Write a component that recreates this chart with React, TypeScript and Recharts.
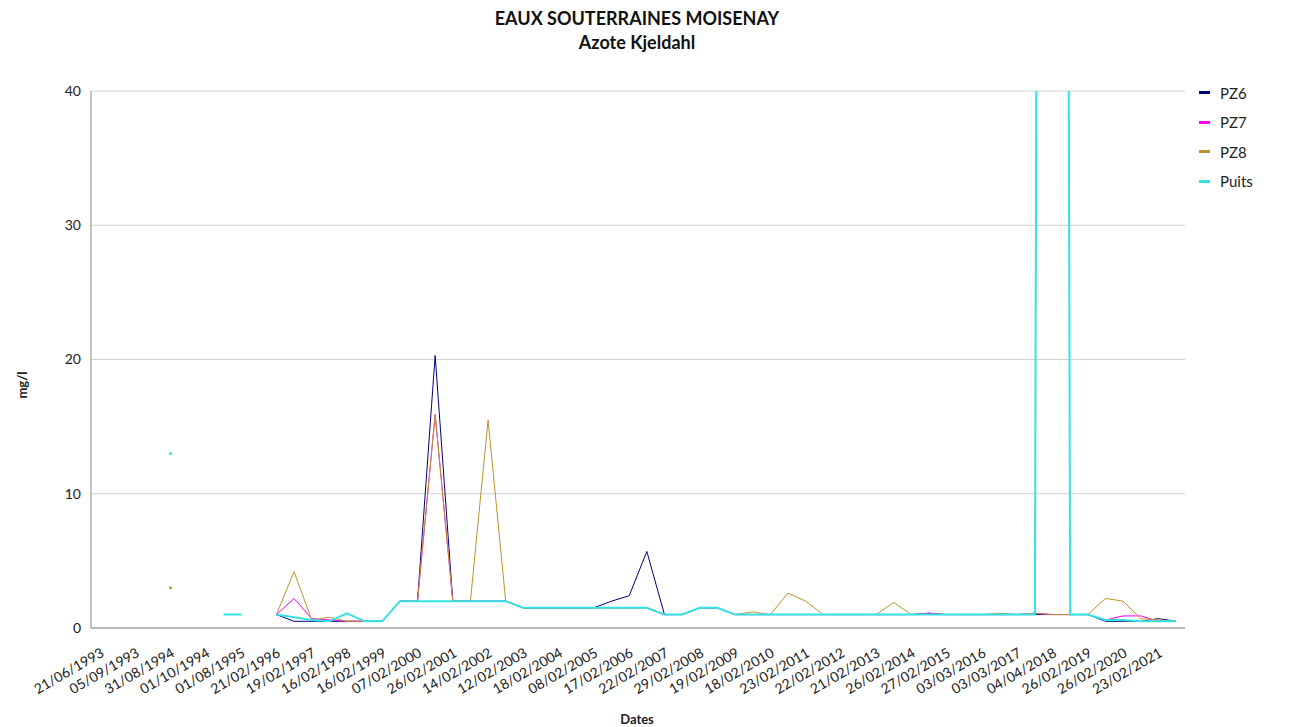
import { LineChart, Line, XAxis, YAxis, CartesianGrid } from 'recharts'

const dates = [
  '21/06/1993', '19/07/1993', '05/09/1993', '14/02/1994', '31/08/1994', '15/09/1994',
  '01/10/1994', '20/02/1995', '01/08/1995', '12/09/1995', '21/02/1996', '10/09/1996',
  '19/02/1997', '16/09/1997', '16/02/1998', '15/09/1998', '16/02/1999', '14/09/1999',
  '07/02/2000', '12/09/2000', '26/02/2001', '11/09/2001', '14/02/2002', '17/09/2002',
  '12/02/2003', '16/09/2003', '18/02/2004', '14/09/2004', '08/02/2005', '13/09/2005',
  '17/02/2006', '12/09/2006', '22/02/2007', '11/09/2007', '29/02/2008', '16/09/2008',
  '19/02/2009', '15/09/2009', '18/02/2010', '14/09/2010', '23/02/2011', '13/09/2011',
  '22/02/2012', '11/09/2012', '21/02/2013', '17/09/2013', '26/02/2014', '16/09/2014',
  '27/02/2015', '15/09/2015', '03/03/2016', '13/09/2016', '03/03/2017', '12/09/2017',
  '04/04/2018', '11/09/2018', '26/02/2019', '17/09/2019', '26/02/2020', '15/09/2020',
  '23/02/2021', '14/09/2021',
]

const pz6 = [
  null, null, null, null, null, null, null, null, null, null,
  1.0, 0.5, 0.5, 0.5, 0.5, 0.5, 0.5, 2.0, 2.0, 20.3,
  2.0, 2.0, 2.0, 2.0, 1.5, 1.5, 1.5, 1.5, 1.5, 2.0,
  2.4, 5.7, 1.0, 1.0, 1.5, 1.5, 1.0, 1.0, 1.0, 1.0,
  1.0, 1.0, 1.0, 1.0, 1.0, 1.0, 1.0, 1.1, 1.0, 1.0,
  1.0, 1.0, 1.0, 1.0, 1.0, 1.0, 1.0, 0.5, 0.5, 0.5,
  0.7, 0.5,
]

const pz7 = [
  null, null, null, null, null, null, null, null, null, null,
  1.0, 2.2, 0.7, 0.6, 0.5, 0.5, 0.5, 2.0, 2.0, 15.9,
  2.0, 2.0, 2.0, 2.0, 1.5, 1.5, 1.5, 1.5, 1.5, 1.5,
  1.5, 1.5, 1.0, 1.0, 1.5, 1.5, 1.0, 1.0, 1.0, 1.0,
  1.0, 1.0, 1.0, 1.0, 1.0, 1.0, 1.0, 1.1, 1.0, 1.0,
  1.0, 1.0, 1.0, 1.1, 1.0, 1.0, 1.0, 0.6, 0.9, 0.9,
  0.5, 0.5,
]

const pz8 = [
  null, null, null, null, 3.0, null, null, null, null, null,
  1.0, 4.2, 0.6, 0.8, 0.5, 0.5, 0.5, 2.0, 2.0, 15.9,
  2.0, 2.0, 15.5, 2.0, 1.5, 1.5, 1.5, 1.5, 1.5, 1.5,
  1.5, 1.5, 1.0, 1.0, 1.5, 1.5, 1.0, 1.2, 1.0, 2.6,
  2.0, 1.0, 1.0, 1.0, 1.0, 1.9, 1.0, 1.0, 1.0, 1.0,
  1.0, 1.1, 1.0, 1.1, 1.0, 1.0, 1.0, 2.2, 2.0, 0.7,
  0.6, 0.5,
]

const puits = [
  null, null, null, null, 13.0, null, null, 1.0, 1.0, null,
  1.0, 0.8, 0.6, 0.5, 1.1, 0.5, 0.5, 2.0, 2.0, 2.0,
  2.0, 2.0, 2.0, 2.0, 1.5, 1.5, 1.5, 1.5, 1.5, 1.5,
  1.5, 1.5, 1.0, 1.0, 1.5, 1.5, 1.0, 1.0, 1.0, 1.0,
  1.0, 1.0, 1.0, 1.0, 1.0, 1.0, 1.0, 1.0, 1.0, 1.0,
  1.0, 1.0, 1.0, 1.0, 500, 1.0, 1.0, 0.6, 0.6, 0.5,
  0.5, 0.5,
]

const yTicks = [0, 10, 20, 30, 40]

const SERIES = [
  { key: 'PZ6', values: pz6, color: '#000080', width: 1 },
  { key: 'PZ7', values: pz7, color: '#ff00ff', width: 1 },
  { key: 'PZ8', values: pz8, color: '#c0922b', width: 1 },
  { key: 'Puits', values: puits, color: '#33e3e3', width: 2 },
]

const chartData = dates.map((date, i) => {
  const row: Record<string, string | number | null> = { date }
  SERIES.forEach((s) => {
    row[s.key] = s.values[i]
  })
  return row
})

const FONT = 'Lato, "Open Sans", sans-serif'

// lone samples have no neighbour to draw a segment to, so mark them with a dot
function loneDot(values: (number | null)[], color: string) {
  return (props: any) => {
    const { cx, cy, index } = props
    const prev = index > 0 ? values[index - 1] : null
    const next = index < values.length - 1 ? values[index + 1] : null
    if (values[index] == null || prev != null || next != null || cy == null) {
      return <g key={`d-${index}`} />
    }
    return <circle key={`d-${index}`} cx={cx} cy={cy} r={1.5} fill={color} />
  }
}

function LegendBox() {
  return (
    <div style={{ position: 'absolute', left: 1199, top: 78, fontSize: 15, color: '#222' }}>
      {SERIES.map((s) => (
        <div key={s.key} style={{ display: 'flex', alignItems: 'center', height: 29.5 }}>
          <span style={{ display: 'inline-block', width: 11, height: 3, background: s.color, marginRight: 10 }} />
          {s.key}
        </div>
      ))}
    </div>
  )
}

export default function App() {
  return (
    <div style={{ position: 'absolute', left: 0, top: 0, width: 1289, height: 727, background: '#fff', fontFamily: FONT }}>
      <div style={{ position: 'absolute', left: 0, width: 1274, top: 6, textAlign: 'center', fontWeight: 700, fontSize: 18, lineHeight: '24px', color: '#111' }}>
        <div>EAUX SOUTERRAINES MOISENAY</div>
        <div>Azote Kjeldahl</div>
      </div>
      <div style={{ position: 'absolute', left: 22, top: 385, transform: 'translate(-50%, -50%) rotate(-90deg)', fontWeight: 700, fontSize: 13, color: '#222' }}>
        mg/l
      </div>
      <div style={{ position: 'absolute', left: 0, width: 1274, top: 711, textAlign: 'center', fontWeight: 700, fontSize: 13, color: '#222' }}>
        Dates
      </div>
      <LegendBox />
      <LineChart width={1289} height={727} data={chartData} margin={{ top: 91, right: 104, bottom: 0, left: 0 }}>
        <CartesianGrid vertical={false} stroke="#d0d0d0" />
        <XAxis
          dataKey="date"
          interval={1}
          height={99}
          padding={{ left: 9, right: 9 }}
          tickLine={false}
          tickMargin={13}
          axisLine={{ stroke: '#888' }}
          angle={-30}
          textAnchor="end"
          tick={{ fontSize: 14, fill: '#222', fontFamily: FONT }}
        />
        <YAxis
          width={91}
          domain={[0, 40]}
          ticks={yTicks}
          allowDataOverflow
          tickLine={false}
          tickMargin={4}
          axisLine={{ stroke: '#888' }}
          tick={{ fontSize: 14, fill: '#222', fontFamily: FONT }}
        />
        {SERIES.map((s) => (
          <Line
            key={s.key}
            dataKey={s.key}
            stroke={s.color}
            strokeWidth={s.width}
            dot={loneDot(s.values, s.color)}
            activeDot={false}
            isAnimationActive={false}
          />
        ))}
      </LineChart>
    </div>
  )
}
